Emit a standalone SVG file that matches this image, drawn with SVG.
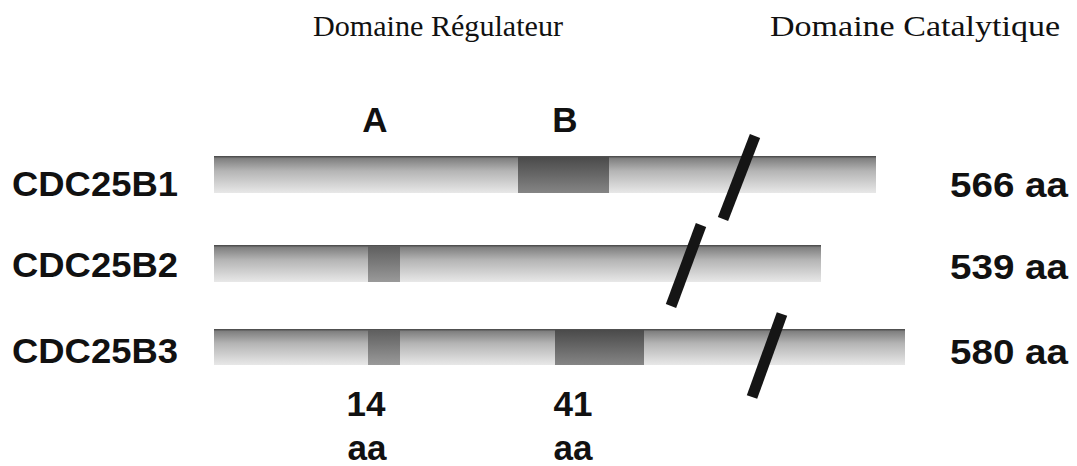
<svg xmlns="http://www.w3.org/2000/svg" width="1077" height="466" viewBox="0 0 1077 466">
  <style>
    .hdr { font-family: "Liberation Serif", "Times New Roman", serif; font-size: 30px; fill: #111; }
    .lbl { font-family: "Liberation Sans", Arial, sans-serif; font-size: 35px; font-weight: bold; fill: #111; }
    .slash { stroke: #151515; stroke-width: 11; stroke-linecap: butt; fill: none; }
  </style>
  <defs>
    <linearGradient id="barGrad" x1="0" y1="0" x2="0" y2="1">
      <stop offset="0" stop-color="#444"/>
      <stop offset="0.07" stop-color="#808080"/>
      <stop offset="0.4" stop-color="#b4b4b4"/>
      <stop offset="1" stop-color="#e8e8e8"/>
    </linearGradient>
    <linearGradient id="boxB" x1="0" y1="0" x2="0" y2="1">
      <stop offset="0" stop-color="#4a4a4a"/>
      <stop offset="1" stop-color="#858585"/>
    </linearGradient>
    <linearGradient id="boxA" x1="0" y1="0" x2="0" y2="1">
      <stop offset="0" stop-color="#5e5e5e"/>
      <stop offset="1" stop-color="#9a9a9a"/>
    </linearGradient>
  </defs>
  <rect width="1077" height="466" fill="#fff"/>

  <g id="headers">
    <text class="hdr" x="313" y="36" textLength="250" lengthAdjust="spacingAndGlyphs">Domaine Régulateur</text>
    <text class="hdr" x="770" y="36" textLength="290" lengthAdjust="spacingAndGlyphs">Domaine Catalytique</text>
  </g>

  <g id="motif-labels">
    <text class="lbl" x="375" y="132" text-anchor="middle">A</text>
    <text class="lbl" x="565" y="132" text-anchor="middle">B</text>
  </g>

  <g id="cdc25b1">
    <text class="lbl" x="12" y="196" textLength="166" lengthAdjust="spacingAndGlyphs">CDC25B1</text>
    <rect x="214" y="156" width="662" height="37" fill="url(#barGrad)"/>
    <rect x="518" y="157" width="91" height="36" fill="url(#boxB)"/>
    <text class="lbl" x="950" y="197" textLength="118" lengthAdjust="spacingAndGlyphs">566 aa</text>
  </g>

  <g id="cdc25b2">
    <text class="lbl" x="12" y="277" textLength="166" lengthAdjust="spacingAndGlyphs">CDC25B2</text>
    <rect x="214" y="245" width="607" height="37" fill="url(#barGrad)"/>
    <rect x="368" y="246" width="32" height="36" fill="url(#boxA)"/>
    <text class="lbl" x="950" y="279" textLength="118" lengthAdjust="spacingAndGlyphs">539 aa</text>
  </g>

  <g id="cdc25b3">
    <text class="lbl" x="12" y="363" textLength="166" lengthAdjust="spacingAndGlyphs">CDC25B3</text>
    <rect x="214" y="329" width="691" height="36" fill="url(#barGrad)"/>
    <rect x="368" y="330" width="32" height="35" fill="url(#boxA)"/>
    <rect x="555" y="330" width="89" height="35" fill="url(#boxB)"/>
    <text class="lbl" x="950" y="364" textLength="118" lengthAdjust="spacingAndGlyphs">580 aa</text>
  </g>

  <g id="sizes">
    <text class="lbl" x="366" y="416" text-anchor="middle">14</text>
    <text class="lbl" x="367" y="460" text-anchor="middle">aa</text>
    <text class="lbl" x="573" y="416" text-anchor="middle">41</text>
    <text class="lbl" x="573" y="460" text-anchor="middle">aa</text>
  </g>

  <g id="connectors">
    <line class="slash" x1="755" y1="136" x2="723" y2="219"/>
    <line class="slash" x1="701" y1="225" x2="671" y2="306"/>
    <line class="slash" x1="782" y1="314" x2="752" y2="397"/>
  </g>
</svg>
